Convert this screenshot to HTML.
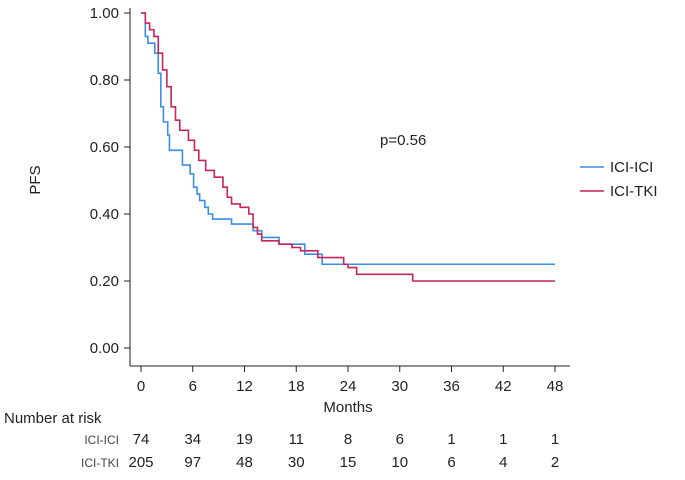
<!DOCTYPE html><html><head><meta charset="utf-8"><style>body{margin:0;background:#fff}svg{font-family:"Liberation Sans",sans-serif}</style></head><body>
<svg width="685" height="475">
<g id="g"></g>
</svg>
<script>
const xTicks=[0,6,12,18,24,30,36,42,48];
const yTicks=[0,0.2,0.4,0.6,0.8,1.0];
const iciTime=[0,0.5,0.8,1.6,2.0,2.3,2.6,3.1,3.3,4.8,5.7,6.1,6.5,6.8,7.4,7.8,8.3,10.5,13,14,16,19,21,48];
const iciSurv=[1,0.93,0.91,0.88,0.82,0.72,0.675,0.636,0.59,0.546,0.52,0.48,0.46,0.44,0.42,0.40,0.385,0.37,0.35,0.33,0.31,0.28,0.25,0.25];
const tkiTime=[0,0.5,1.0,1.5,2,2.5,3,3.5,4,4.5,5.5,6.2,6.7,7.5,8.5,9.5,10,10.5,11.5,12.5,13,13.5,14,16,17.5,18.5,20.5,23.5,24,25,31.5,48];
const tkiSurv=[1,0.97,0.95,0.93,0.88,0.83,0.78,0.72,0.68,0.65,0.62,0.59,0.56,0.53,0.51,0.48,0.45,0.43,0.42,0.40,0.36,0.34,0.32,0.31,0.30,0.29,0.27,0.25,0.24,0.22,0.20,0.20];
const riskICI=[74,34,19,11,8,6,1,1,1];
const riskTKI=[205,97,48,30,15,10,6,4,2];
const X=m=>141+m*(414/48), Y=s=>348-s*335;
const g=document.getElementById('g');const NS='http://www.w3.org/2000/svg';
function el(t,a,txt){const e=document.createElementNS(NS,t);for(const k in a)e.setAttribute(k,a[k]);if(txt!==undefined)e.textContent=txt;g.appendChild(e);return e;}
let e=el('line',{x1:130,y1:8,x2:130,y2:366,stroke:'#222','stroke-width':1});

e=el('line',{x1:130,y1:366,x2:570,y2:366,stroke:'#222','stroke-width':1});

yTicks.forEach(v=>{el('line',{x1:124,x2:130,y1:Y(v),y2:Y(v),stroke:'#222'});
e=el('text',{x:119,y:Y(v)+5,'text-anchor':'end','font-size':15,fill:'#222'},v.toFixed(2));
});
xTicks.forEach((v,i)=>{el('line',{x1:X(v),x2:X(v),y1:366,y2:372,stroke:'#222'});
e=el('text',{x:X(v),y:391,'text-anchor':'middle','font-size':15,fill:'#222'},v);

e=el('text',{x:X(v),y:444,'text-anchor':'middle','font-size':15,fill:'#222'},riskICI[i]);

e=el('text',{x:X(v),y:467,'text-anchor':'middle','font-size':15,fill:'#222'},riskTKI[i]);
});
e=el('text',{x:348,y:412,'text-anchor':'middle','font-size':15,fill:'#222'},'Months');

e=el('text',{x:40,y:180,'text-anchor':'middle','font-size':15,fill:'#222',transform:'rotate(-90 40 180)'},'PFS');

e=el('text',{x:4,y:423,'font-size':15,fill:'#222'},'Number at risk');

e=el('text',{x:119,y:444,'text-anchor':'end','font-size':12,fill:'#444'},'ICI-ICI');

e=el('text',{x:119,y:467,'text-anchor':'end','font-size':12,fill:'#444'},'ICI-TKI');

e=el('text',{x:380,y:145,'font-size':15,fill:'#222'},'p=0.56');

function step(t,s){let d='M'+X(t[0])+','+Y(s[0]);for(let i=1;i<t.length;i++){d+='H'+X(t[i])+'V'+Y(s[i]);}return d;}
e=el('path',{d:step(iciTime,iciSurv),fill:'none',stroke:'#3a8ee6','stroke-width':1.6});

e=el('path',{d:step(tkiTime,tkiSurv),fill:'none',stroke:'#c8255a','stroke-width':1.6});

e=el('line',{x1:580,x2:604,y1:167,y2:167,stroke:'#3a8ee6','stroke-width':1.6});

e=el('text',{x:610,y:172,'font-size':15,fill:'#222'},'ICI-ICI');

e=el('line',{x1:580,x2:604,y1:191,y2:191,stroke:'#c8255a','stroke-width':1.6});

e=el('text',{x:610,y:196,'font-size':15,fill:'#222'},'ICI-TKI');

</script></body></html>
